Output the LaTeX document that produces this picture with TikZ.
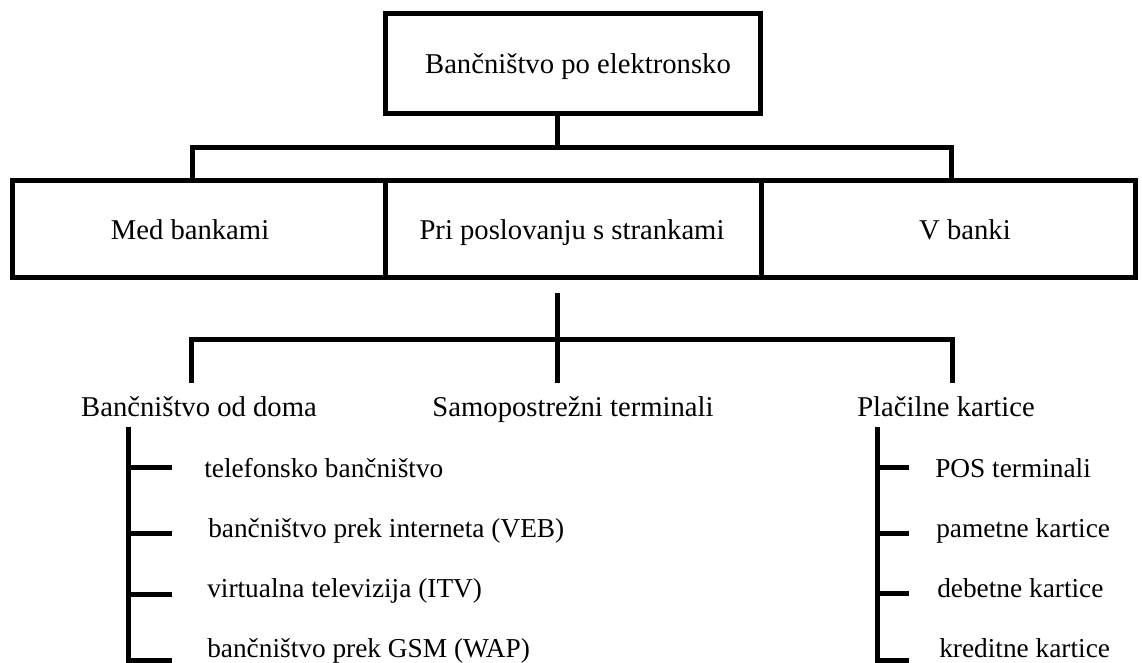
\documentclass[tikz,border=0pt]{standalone}
\usepackage{fontspec}
\setmainfont{Liberation Serif}
\begin{document}
\begin{tikzpicture}[x=0.75pt,y=0.75pt,yscale=-1,xscale=1,
  box/.style={draw,line width=3.75pt,inner sep=0pt,minimum height=72pt},
  link/.style={line width=3.75pt},
  lbl/.style={inner sep=0.75pt,text height=16pt,text depth=5pt,font=\fontsize{21.5}{25}\selectfont},
  item/.style={inner sep=0.75pt,anchor=west,text height=16pt,text depth=5pt,font=\fontsize{20.5}{24}\selectfont}]
\useasboundingbox (0,0) rectangle (1142,663);

%Shape: Rectangle [id:root]
\node [box,minimum width=281.25pt,minimum height=75pt] (root) at (572.5,64) {};
%Shape: Rectangle [id:medbank]
\node [box,minimum width=279.75pt] (medbank) at (198.5,229) {};
%Shape: Rectangle [id:stranke]
\node [box,minimum width=282pt] (stranke) at (573,229) {};
%Shape: Rectangle [id:vbanki]
\node [box,minimum width=280.5pt] (vbanki) at (948,229) {};

% Text Node
\node [lbl] (rootlbl) at (578,66) {Bančništvo po elektronsko};
% Text Node
\node [lbl] (medlbl) at (190,232) {Med bankami};
% Text Node
\node [lbl] (strlbl) at (572,232) {Pri poslovanju s strankami};
% Text Node
\node [lbl] (vlbl) at (965,232) {V banki};

% Text Node
\node [lbl] (doma) at (199,409) {Bančništvo od doma};
% Text Node
\node [lbl] (terminali) at (573,409) {Samopostrežni terminali};
% Text Node
\node [lbl] (kartice) at (946,409) {Plačilne kartice};

%Straight Lines [id:top bracket]
\coordinate (j1) at (557,148);
\coordinate (l1) at (192,181);
\coordinate (r1) at (951,181);
\draw [link] (root.south -| j1) -- (j1);
\draw [link] (l1) |- (j1) -| (r1);

%Straight Lines [id:lower bracket]
\coordinate (j2) at (557,339);
\coordinate (s2) at (557,293);
\coordinate (m2) at (557,383);
\coordinate (l2) at (191,383);
\coordinate (r2) at (952,383);
\draw [link] (s2) -- (m2);
\draw [link] (l2) |- (j2) -| (r2);

% Text Node
\node [item] (tel) at (203,470) {telefonsko bančništvo};
% Text Node
\node [item] (veb) at (207,530) {bančništvo prek interneta (VEB)};
% Text Node
\node [item] (itv) at (206,590) {virtualna televizija (ITV)};
% Text Node
\node [item] (wap) at (206,650) {bančništvo prek GSM (WAP)};

% Text Node
\node [item] (pos) at (934,470) {POS terminali};
% Text Node
\node [item] (pam) at (935,530) {pametne kartice};
% Text Node
\node [item] (deb) at (936,590) {debetne kartice};
% Text Node
\node [item] (kre) at (938,650) {kreditne kartice};

%Straight Lines [id:left list]
\coordinate (ltop) at (128,427);
\draw [link] (ltop) |- (172,660);
\foreach \y in {467,533,594} \draw [link] (128,\y) -- (172,\y);

%Straight Lines [id:right list]
\coordinate (rtop) at (877,427);
\draw [link] (rtop) |- (909,660);
\foreach \y in {467,533,593} \draw [link] (877,\y) -- (909,\y);

\end{tikzpicture}
\end{document}
